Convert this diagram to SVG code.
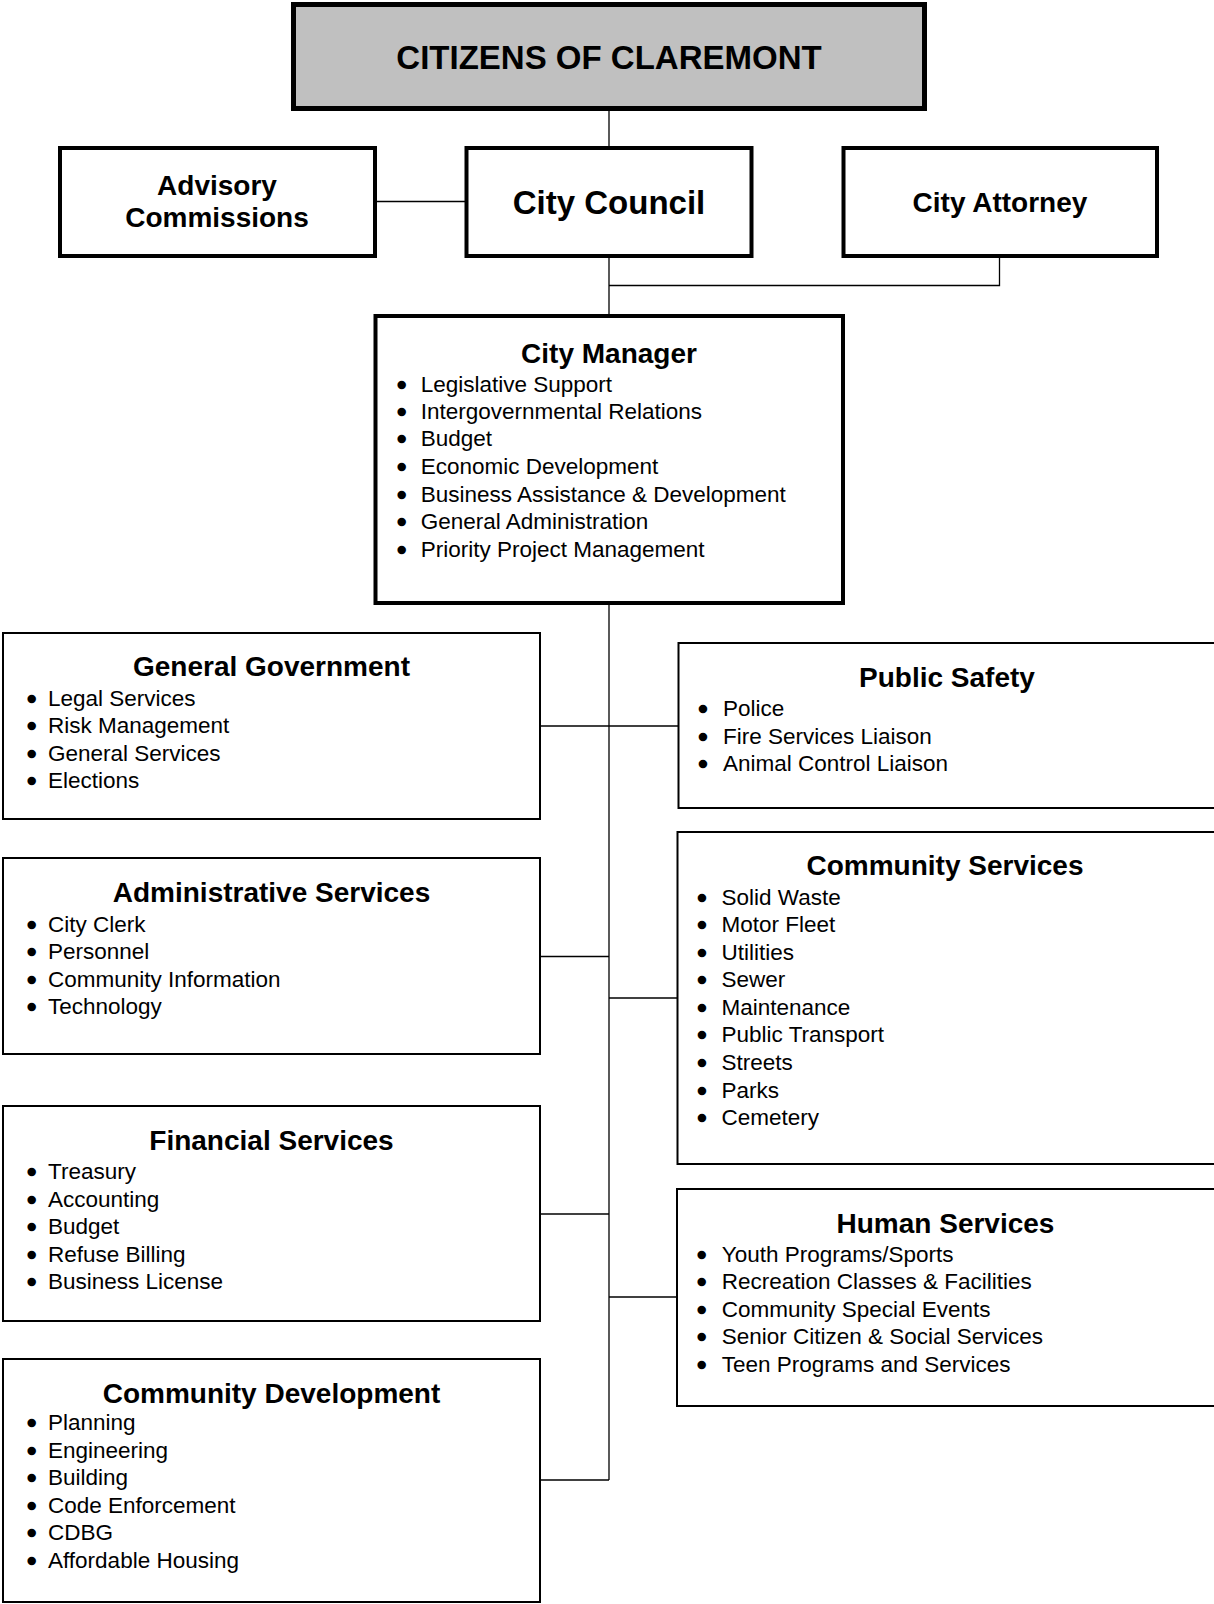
<svg xmlns="http://www.w3.org/2000/svg" width="1214" height="1604" viewBox="0 0 1214 1604">
<style>
text { font-family: "Liberation Sans", Arial, sans-serif; fill: #000; }
.big { font-size: 33px; font-weight: bold; text-anchor: middle; }
.hd { font-size: 28px; font-weight: bold; text-anchor: middle; }
.it { font-size: 22.5px; }
.bu { font-size: 22.5px; text-anchor: middle; stroke: #000; stroke-width: 2.4; }
.box { fill: #fff; stroke: #000; }
.top { stroke-width: 4; }
.low { stroke-width: 2; }
.conn { fill: none; stroke: #000; stroke-width: 1.3; }
</style>
<rect width="1214" height="1604" fill="#fff"/>
<g id="connectors">
  <path class="conn" d="M609 110 V147"/>
  <path class="conn" d="M377 201.5 H465"/>
  <path class="conn" d="M609 256 V315"/>
  <path class="conn" d="M609 285.5 H999.5 V256"/>
  <path class="conn" d="M609 604 V1480"/>
  <path class="conn" d="M540 726 H678"/>
  <path class="conn" d="M540 956.5 H609"/>
  <path class="conn" d="M609 998 H677"/>
  <path class="conn" d="M540 1214 H609"/>
  <path class="conn" d="M609 1297 H677"/>
  <path class="conn" d="M540 1480 H609"/>
</g>
<g id="citizens">
  <rect x="293.5" y="4.5" width="631" height="104" fill="#c0c0c0" stroke="#000" stroke-width="5"/>
  <text class="big" x="609" y="69">CITIZENS OF CLAREMONT</text>
</g>
<g id="advisory">
  <rect class="box top" x="60" y="148" width="315" height="108"/>
  <text class="hd" x="217" y="195">Advisory</text>
  <text class="hd" x="217" y="226.5">Commissions</text>
</g>
<g id="council">
  <rect class="box top" x="466.5" y="148" width="285" height="108"/>
  <text class="big" x="609" y="213.5">City Council</text>
</g>
<g id="attorney">
  <rect class="box top" x="843.5" y="148" width="313.5" height="108"/>
  <text class="hd" x="1000" y="211.5">City Attorney</text>
</g>
<g id="manager">
  <rect class="box top" x="375.5" y="316" width="467.5" height="287"/>
  <text class="hd" x="609" y="362.5">City Manager</text>
  <text class="bu" x="401.7" y="391.5">•</text><text class="it" x="420.7" y="391.5">Legislative Support</text>
  <text class="bu" x="401.7" y="418.7">•</text><text class="it" x="420.7" y="418.7">Intergovernmental Relations</text>
  <text class="bu" x="401.7" y="446.3">•</text><text class="it" x="420.7" y="446.3">Budget</text>
  <text class="bu" x="401.7" y="474">•</text><text class="it" x="420.7" y="474">Economic Development</text>
  <text class="bu" x="401.7" y="501.6">•</text><text class="it" x="420.7" y="501.6">Business Assistance &amp; Development</text>
  <text class="bu" x="401.7" y="529.3">•</text><text class="it" x="420.7" y="529.3">General Administration</text>
  <text class="bu" x="401.7" y="557">•</text><text class="it" x="420.7" y="557">Priority Project Management</text>
</g>
<g id="general-government">
  <rect class="box low" x="3" y="633" width="537" height="186"/>
  <text class="hd" x="271.5" y="676">General Government</text>
  <text class="bu" x="31.7" y="706">•</text><text class="it" x="48" y="706">Legal Services</text>
  <text class="bu" x="31.7" y="733.4">•</text><text class="it" x="48" y="733.4">Risk Management</text>
  <text class="bu" x="31.7" y="760.8">•</text><text class="it" x="48" y="760.8">General Services</text>
  <text class="bu" x="31.7" y="788.2">•</text><text class="it" x="48" y="788.2">Elections</text>
</g>
<g id="administrative-services">
  <rect class="box low" x="3" y="858" width="537" height="196"/>
  <text class="hd" x="271.5" y="902.3">Administrative Services</text>
  <text class="bu" x="31.7" y="931.7">•</text><text class="it" x="48" y="931.7">City Clerk</text>
  <text class="bu" x="31.7" y="959.2">•</text><text class="it" x="48" y="959.2">Personnel</text>
  <text class="bu" x="31.7" y="986.7">•</text><text class="it" x="48" y="986.7">Community Information</text>
  <text class="bu" x="31.7" y="1014.2">•</text><text class="it" x="48" y="1014.2">Technology</text>
</g>
<g id="financial-services">
  <rect class="box low" x="3" y="1106" width="537" height="215"/>
  <text class="hd" x="271.5" y="1150">Financial Services</text>
  <text class="bu" x="31.7" y="1179.3">•</text><text class="it" x="48" y="1179.3">Treasury</text>
  <text class="bu" x="31.7" y="1206.7">•</text><text class="it" x="48" y="1206.7">Accounting</text>
  <text class="bu" x="31.7" y="1234.1">•</text><text class="it" x="48" y="1234.1">Budget</text>
  <text class="bu" x="31.7" y="1261.5">•</text><text class="it" x="48" y="1261.5">Refuse Billing</text>
  <text class="bu" x="31.7" y="1288.9">•</text><text class="it" x="48" y="1288.9">Business License</text>
</g>
<g id="community-development">
  <rect class="box low" x="3" y="1359" width="537" height="243"/>
  <text class="hd" x="271.5" y="1402.7">Community Development</text>
  <text class="bu" x="31.7" y="1430">•</text><text class="it" x="48" y="1430">Planning</text>
  <text class="bu" x="31.7" y="1457.6">•</text><text class="it" x="48" y="1457.6">Engineering</text>
  <text class="bu" x="31.7" y="1485.2">•</text><text class="it" x="48" y="1485.2">Building</text>
  <text class="bu" x="31.7" y="1512.8">•</text><text class="it" x="48" y="1512.8">Code Enforcement</text>
  <text class="bu" x="31.7" y="1540.4">•</text><text class="it" x="48" y="1540.4">CDBG</text>
  <text class="bu" x="31.7" y="1568">•</text><text class="it" x="48" y="1568">Affordable Housing</text>
</g>
<g id="public-safety">
  <rect class="box low" x="678.5" y="643" width="537" height="165"/>
  <text class="hd" x="947" y="687">Public Safety</text>
  <text class="bu" x="703" y="716">•</text><text class="it" x="723" y="716">Police</text>
  <text class="bu" x="703" y="743.5">•</text><text class="it" x="723" y="743.5">Fire Services Liaison</text>
  <text class="bu" x="703" y="771">•</text><text class="it" x="723" y="771">Animal Control Liaison</text>
</g>
<g id="community-services">
  <rect class="box low" x="677.5" y="832" width="538" height="332"/>
  <text class="hd" x="945" y="875">Community Services</text>
  <text class="bu" x="702" y="904.5">•</text><text class="it" x="721.5" y="904.5">Solid Waste</text>
  <text class="bu" x="702" y="932">•</text><text class="it" x="721.5" y="932">Motor Fleet</text>
  <text class="bu" x="702" y="959.6">•</text><text class="it" x="721.5" y="959.6">Utilities</text>
  <text class="bu" x="702" y="987.2">•</text><text class="it" x="721.5" y="987.2">Sewer</text>
  <text class="bu" x="702" y="1014.8">•</text><text class="it" x="721.5" y="1014.8">Maintenance</text>
  <text class="bu" x="702" y="1042.4">•</text><text class="it" x="721.5" y="1042.4">Public Transport</text>
  <text class="bu" x="702" y="1070">•</text><text class="it" x="721.5" y="1070">Streets</text>
  <text class="bu" x="702" y="1097.6">•</text><text class="it" x="721.5" y="1097.6">Parks</text>
  <text class="bu" x="702" y="1125.2">•</text><text class="it" x="721.5" y="1125.2">Cemetery</text>
</g>
<g id="human-services">
  <rect class="box low" x="677" y="1189" width="538" height="217"/>
  <text class="hd" x="945.5" y="1232.7">Human Services</text>
  <text class="bu" x="701.7" y="1261.7">•</text><text class="it" x="721.7" y="1261.7">Youth Programs/Sports</text>
  <text class="bu" x="701.7" y="1289.2">•</text><text class="it" x="721.7" y="1289.2">Recreation Classes &amp; Facilities</text>
  <text class="bu" x="701.7" y="1316.7">•</text><text class="it" x="721.7" y="1316.7">Community Special Events</text>
  <text class="bu" x="701.7" y="1344.2">•</text><text class="it" x="721.7" y="1344.2">Senior Citizen &amp; Social Services</text>
  <text class="bu" x="701.7" y="1371.7">•</text><text class="it" x="721.7" y="1371.7">Teen Programs and Services</text>
</g>
</svg>
